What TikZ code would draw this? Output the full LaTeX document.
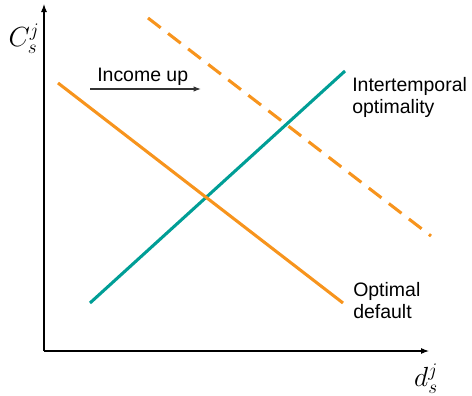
\documentclass[tikz,border=0pt]{standalone}
\usepackage{fontspec}
\newfontfamily\labelfont{Liberation Sans}
\usepackage{tikz}
\usetikzlibrary{positioning, arrows, arrows.meta, calc}
\definecolor{curveOrange}{RGB}{247,148,29}
\definecolor{curveTeal}{RGB}{0,158,150}
\colorlet{axisColor}{black}
\tikzstyle{axis}=[-{Latex[length=6pt,width=4.5pt]}, line width=0.8pt, draw=axisColor]
\tikzstyle{incomeArrow}=[-{Latex[length=5.5pt,width=4pt]}, line width=0.8pt, draw=black!80]
\tikzstyle{curve}=[line width=2.3pt]
\tikzstyle{lbl}=[font=\labelfont\fontsize{14.6}{16.5}\selectfont, align=left, inner sep=0pt]
\tikzstyle{axlbl}=[font=\fontsize{20.74}{25}\selectfont, inner sep=0pt]

\begin{document}
\begin{tikzpicture}[x=0.75pt, y=-0.75pt]
      \useasboundingbox (0,0) rectangle (472,396);
      % axes
      \coordinate (origin) at (44,351);
      \coordinate (yTop) at (44,4);
      \coordinate (xEnd) at (429,351);
      \draw [axis] (origin) -- (yTop);
      \draw [axis] (origin) -- (xEnd);
      \node(cLabel) [axlbl] at (24,39) {$C_s^j$};
      \node(dLabel) [axlbl] at (426,379) {$d_s^j$};
      % curves
      \coordinate (tealA) at (90,303);
      \coordinate (tealB) at (345,71);
      \draw [curve, curveTeal] (tealA) -- (tealB);
      \coordinate (defA) at (58,83);
      \coordinate (defB) at (343,303);
      \draw [curve, curveOrange] (defA) -- (defB);
      \coordinate (newA) at (148,18);
      \coordinate (newB) at (431,236);
      \draw [curve, curveOrange, dash pattern=on 12pt off 7pt] (newA) -- (newB);
      % income shift
      \coordinate (shiftA) at (90,89);
      \coordinate (shiftB) at (201,89);
      \draw [incomeArrow] (shiftA) -- (shiftB);
      \node(income) [lbl, anchor=base west] at (97,81) {Income up};
      \node(interLabel) [lbl, anchor=base west] at (352,113) {Intertemporal\\optimality};
      \node(defLabel) [lbl, anchor=base west] at (353,318) {Optimal\\default};
    \end{tikzpicture}
\end{document}
